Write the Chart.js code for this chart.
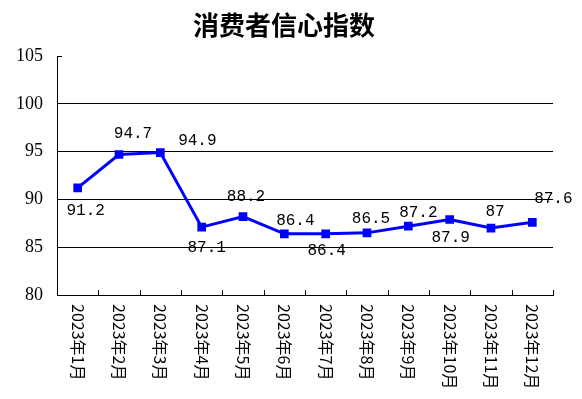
<!DOCTYPE html>
<html>
<head>
<meta charset="utf-8">
<script src="https://cdn.jsdelivr.net/npm/chart.js@4.4.1/dist/chart.umd.min.js"></script>
<style>
  html, body { margin: 0; padding: 0; background: #fff; }
  #wrap { width: 582px; height: 399px; }
</style>
</head>
<body>
<div id="wrap"><canvas id="chart" width="582" height="399"></canvas></div>
<script>
const TITLE = '消费者信心指数';
const MONTHS = ['2023年1月', '2023年2月', '2023年3月', '2023年4月', '2023年5月', '2023年6月',
    '2023年7月', '2023年8月', '2023年9月', '2023年10月', '2023年11月', '2023年12月'];
const VALUES = [91.2, 94.7, 94.9, 87.1, 88.2, 86.4, 86.4, 86.5, 87.2, 87.9, 87, 87.6];
const Y_TICKS = [80, 85, 90, 95, 100, 105];

// 数据标签的位置偏移 (像素)
const LABEL_OFFSETS = [
    [8, 23], [14, -21], [37, -12], [5, 21], [3, -20], [11, -13],
    [1, 17], [4, -14], [10, -13], [1, 18], [4, -16], [21, -24]
];

const labelPlugin = {
    id: 'customDraw',
    afterDraw(chart) {
        const ctx = chart.ctx;
        const xs = chart.scales.x;
        const area = chart.chartArea;
        ctx.save();

        // 标题
        ctx.fillStyle = '#000';
        ctx.font = 'bold 26px "Noto Sans CJK SC"';
        ctx.textAlign = 'center';
        ctx.textBaseline = 'middle';
        ctx.fillText(TITLE, 284, 25);

        // x 轴内侧刻度
        ctx.strokeStyle = '#000';
        ctx.lineWidth = 1;
        ctx.beginPath();
        for (let i = 0; i <= MONTHS.length; i++) {
            const px = Math.round(xs.getPixelForValue(i - 0.5)) + 0.5;
            ctx.moveTo(px, area.bottom);
            ctx.lineTo(px, area.bottom - 5);
        }
        // y 轴顶部小刻度
        const y105 = Math.round(chart.scales.y.getPixelForValue(105)) + 0.5;
        ctx.moveTo(area.left, y105);
        ctx.lineTo(area.left + 5, y105);
        ctx.stroke();

        // x 轴标签 (顺时针旋转)
        ctx.font = '16px "Noto Sans CJK SC"';
        ctx.fillStyle = '#000';
        ctx.textAlign = 'left';
        ctx.textBaseline = 'middle';
        MONTHS.forEach((m, i) => {
            const px = xs.getPixelForValue(i);
            ctx.save();
            ctx.translate(px, area.bottom + 9);
            ctx.rotate(Math.PI / 2);
            ctx.fillText(m, 0, 0);
            ctx.restore();
        });

        // 数据标签
        const meta = chart.getDatasetMeta(0);
        ctx.font = '16px "Liberation Mono"';
        ctx.textAlign = 'center';
        ctx.textBaseline = 'middle';
        meta.data.forEach((pt, i) => {
            const off = LABEL_OFFSETS[i];
            ctx.fillText(String(VALUES[i]), pt.x + off[0], pt.y + off[1]);
        });
        ctx.restore();
    }
};

new Chart(document.getElementById('chart').getContext('2d'), {
    type: 'line',
    data: {
        labels: MONTHS,
        datasets: [{
            data: VALUES,
            borderColor: '#0000ff',
            backgroundColor: '#0000ff',
            borderWidth: 3,
            pointStyle: 'rect',
            pointRadius: 4,
            pointHoverRadius: 4,
            tension: 0
        }]
    },
    options: {
        responsive: false,
        animation: false,
        layout: { padding: { left: 0, right: 29, top: 56, bottom: 104 } },
        plugins: {
            legend: { display: false },
            title: { display: false },
            tooltip: { enabled: false }
        },
        scales: {
            x: {
                offset: true,
                grid: { display: false },
                border: { display: true, color: '#000', width: 1 },
                ticks: { display: false },
                afterFit(scale) { scale.height = 0; }
            },
            y: {
                min: 80,
                max: 105,
                afterBuildTicks(scale) { scale.ticks = Y_TICKS.map(v => ({ value: v })); },
                grid: {
                    drawTicks: false,
                    color: c => (c.tick && c.tick.value === 105) ? 'rgba(0,0,0,0)' : '#000',
                    lineWidth: 1
                },
                border: { display: true, color: '#000', width: 1 },
                ticks: {
                    padding: 14,
                    color: '#000',
                    font: { family: '"Liberation Serif"', size: 18 }
                },
                afterFit(scale) { scale.width = 57; }
            }
        }
    },
    plugins: [labelPlugin]
});
</script>
</body>
</html>
